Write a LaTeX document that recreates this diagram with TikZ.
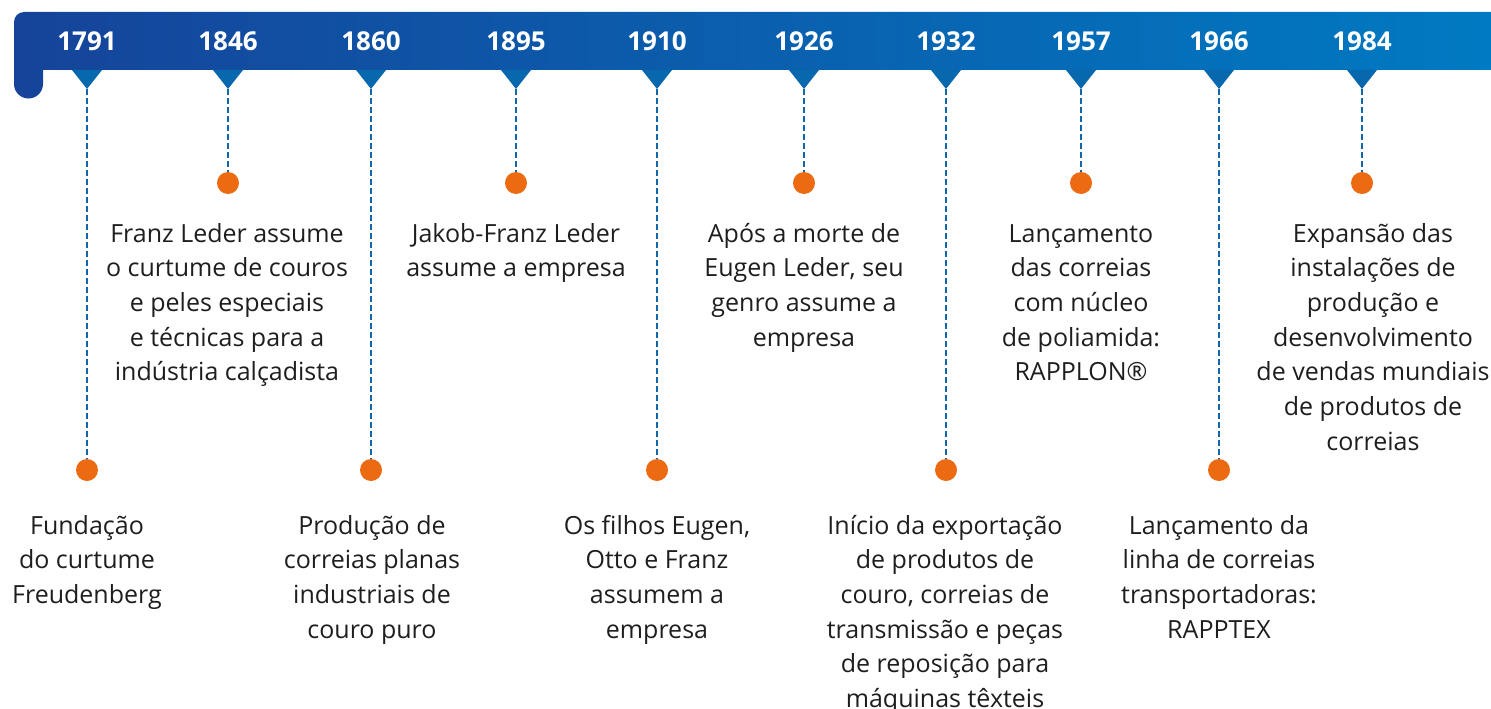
\documentclass[tikz,border=0pt]{standalone}
\usepackage{fontspec}
\setmainfont{Open Sans}
\definecolor{barL}{HTML}{15449A}
\definecolor{barR}{HTML}{007AC2}
\definecolor{tri}{HTML}{0868AE}
\definecolor{dash}{HTML}{1466AC}
\definecolor{dot}{HTML}{EC6A12}
\definecolor{txt}{HTML}{1E1E1E}
\tikzset{
  yearlbl/.style={anchor=base, inner sep=0pt, text=white, font=\fontsize{26}{30}\selectfont\bfseries},
  marker/.style={fill=tri, draw=none},
  conn/.style={draw=dash, line width=2.6pt, dash pattern=on 5.5pt off 3.5pt},
  dotnode/.style={circle, fill=dot, minimum size=22pt, inner sep=0pt},
  desc/.style={anchor=base, inner sep=0pt, text=txt, font=\fontsize{25}{34.7}\selectfont}
}
\newcommand{\lines}[1]{\begin{tabular}[t]{@{}c@{}}#1\end{tabular}}
\begin{document}
\begin{tikzpicture}[x=1pt,y=-1pt]
\useasboundingbox (0,0) rectangle (1491,709);
% banner
\shade[left color=barL, right color=barR]
  (14,22) arc[start angle=180, end angle=270, radius=10] -- (1491,12) -- (1491,70)
  -- (43,70) -- (43,84) arc[start angle=0, end angle=180, radius=14.5] -- cycle;
% items
\foreach \x/\yr/\cy/\n in {87/1791/470/a, 228/1846/183/b, 371/1860/470/c, 516/1895/183/d, 657/1910/470/e, 804/1926/183/f, 946/1932/470/g, 1081/1957/183/h, 1219/1966/470/i, 1362/1984/183/j}{
  \node[yearlbl] (y\n) at (\x,51) {\yr};
  \fill[marker] (\x-15,70) -- (\x+15,70) -- (\x,89) -- cycle;
  \coordinate (t\n) at (\x,89);
  \node[dotnode] (d\n) at (\x,\cy) {};
  \draw[conn] (t\n) -- (d\n.north);
}
% descriptions
\node[desc] (ta) at (87,534) {\lines{Fundação\\do curtume\\Freudenberg}};
\node[desc] (tb) at (227,242) {\lines{Franz Leder assume\\o curtume de couros\\e peles especiais\\e técnicas para a\\indústria calçadista}};
\node[desc] (tc) at (372,534) {\lines{Produção de\\correias planas\\industriais de\\couro puro}};
\node[desc] (td) at (516,242) {\lines{Jakob-Franz Leder\\assume a empresa}};
\node[desc] (te) at (657,534) {\lines{Os filhos Eugen,\\Otto e Franz\\assumem a\\empresa}};
\node[desc] (tf) at (804,242) {\lines{Após a morte de\\Eugen Leder, seu\\genro assume a\\empresa}};
\node[desc] (tg) at (945,534) {\lines{Início da exportação\\de produtos de\\couro, correias de\\transmissão e peças\\de reposição para\\máquinas têxteis}};
\node[desc] (th) at (1081,242) {\lines{Lançamento\\das correias\\com núcleo\\de poliamida:\\RAPPLON®}};
\node[desc] (ti) at (1219,534) {\lines{Lançamento da\\linha de correias\\transportadoras:\\RAPPTEX}};
\node[desc] (tj) at (1373,242) {\lines{Expansão das\\instalações de\\produção e\\desenvolvimento\\de vendas mundiais\\de produtos de\\correias}};
\end{tikzpicture}
\end{document}
